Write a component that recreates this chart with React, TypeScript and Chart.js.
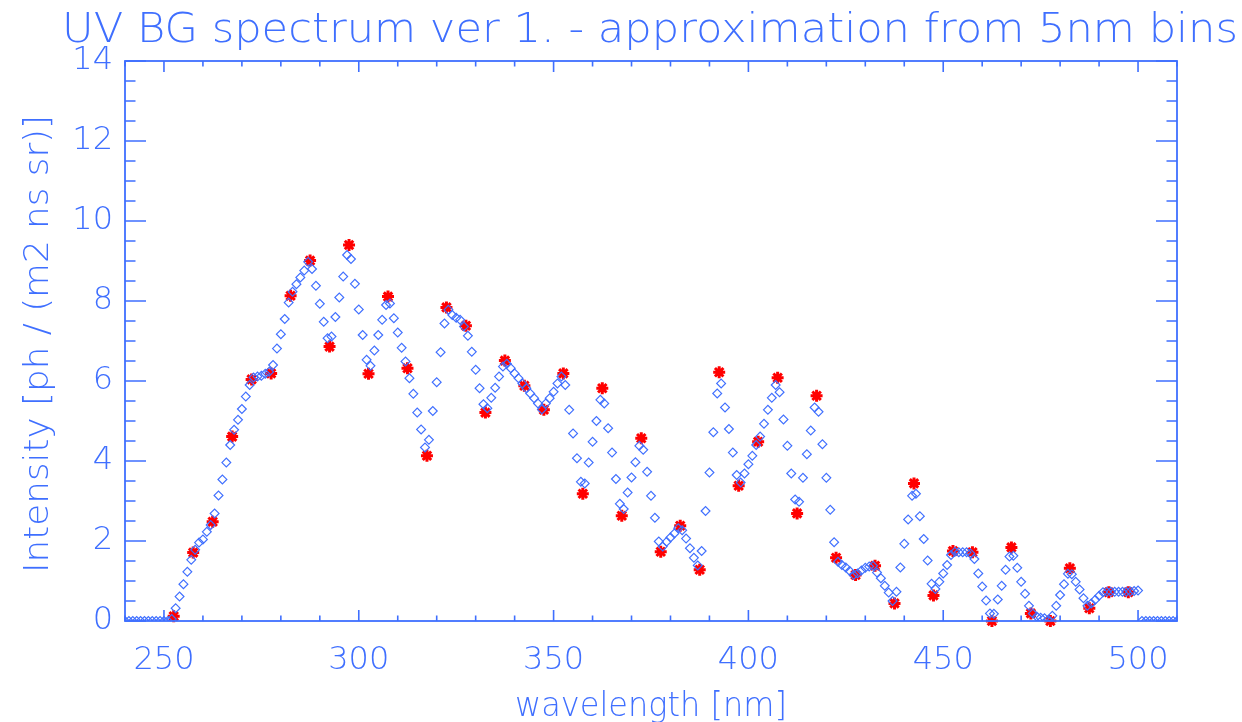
import { useEffect, useRef } from "react";
import { Chart, registerables } from "chart.js";

Chart.register(...registerables);

// ---------- text ----------
const TITLE = "UV BG spectrum ver 1. - approximation from 5nm bins";
const X_TITLE = "wavelength [nm]";
const Y_TITLE = "Intensity [ph / (m2 ns sr)]";

// ---------- axes ----------
const X_MIN = 240;
const X_MAX = 510;
const Y_MIN = 0;
const Y_MAX = 14;
const X_TICK_LABELS = [250, 300, 350, 400, 450, 500];
const X_MINOR_TICKS = [240, 250, 260, 270, 280, 290, 300, 310, 320, 330, 340, 350, 360, 370, 380, 390, 400, 410, 420, 430, 440, 450, 460, 470, 480, 490, 500, 510];
const Y_TICK_LABELS = [0, 2, 4, 6, 8, 10, 12, 14];
const Y_MINOR_TICKS = [0, 0.5, 1, 1.5, 2, 2.5, 3, 3.5, 4, 4.5, 5, 5.5, 6, 6.5, 7, 7.5, 8, 8.5, 9, 9.5, 10, 10.5, 11, 11.5, 12, 12.5, 13, 13.5, 14];

// ---------- 1 nm spectrum (blue diamonds) ----------
const FINE_WAVELENGTHS = [
  240, 241, 242, 243, 244, 245, 246, 247, 248, 249,
  250, 251, 252, 253, 254, 255, 256, 257, 258, 259,
  260, 261, 262, 263, 264, 265, 266, 267, 268, 269,
  270, 271, 272, 273, 274, 275, 276, 277, 278, 279,
  280, 281, 282, 283, 284, 285, 286, 287, 288, 289,
  290, 291, 292, 293, 294, 295, 296, 297, 298, 299,
  300, 301, 302, 303, 304, 305, 306, 307, 308, 309,
  310, 311, 312, 313, 314, 315, 316, 317, 318, 319,
  320, 321, 322, 323, 324, 325, 326, 327, 328, 329,
  330, 331, 332, 333, 334, 335, 336, 337, 338, 339,
  340, 341, 342, 343, 344, 345, 346, 347, 348, 349,
  350, 351, 352, 353, 354, 355, 356, 357, 358, 359,
  360, 361, 362, 363, 364, 365, 366, 367, 368, 369,
  370, 371, 372, 373, 374, 375, 376, 377, 378, 379,
  380, 381, 382, 383, 384, 385, 386, 387, 388, 389,
  390, 391, 392, 393, 394, 395, 396, 397, 398, 399,
  400, 401, 402, 403, 404, 405, 406, 407, 408, 409,
  410, 411, 412, 413, 414, 415, 416, 417, 418, 419,
  420, 421, 422, 423, 424, 425, 426, 427, 428, 429,
  430, 431, 432, 433, 434, 435, 436, 437, 438, 439,
  440, 441, 442, 443, 444, 445, 446, 447, 448, 449,
  450, 451, 452, 453, 454, 455, 456, 457, 458, 459,
  460, 461, 462, 463, 464, 465, 466, 467, 468, 469,
  470, 471, 472, 473, 474, 475, 476, 477, 478, 479,
  480, 481, 482, 483, 484, 485, 486, 487, 488, 489,
  490, 491, 492, 493, 494, 495, 496, 497, 498, 499,
  500, 501, 502, 503, 504, 505, 506, 507, 508, 509,
  510,
];
const FINE_INTENSITY = [
  0, 0, 0, 0, 0, 0, 0, 0, 0, 0,
  0, 0, 0.05, 0.32, 0.61, 0.92, 1.23, 1.53, 1.78, 1.96,
  2.04, 2.23, 2.4, 2.69, 3.14, 3.54, 3.96, 4.4, 4.78, 5.03,
  5.3, 5.61, 5.9, 6.09, 6.11, 6.13, 6.18, 6.23, 6.4, 6.81,
  7.17, 7.55, 7.96, 8.23, 8.42, 8.59, 8.76, 8.98, 8.8, 8.38,
  7.93, 7.48, 7.07, 7.11, 7.6, 8.09, 8.61, 9.15, 9.05, 8.43,
  7.79, 7.15, 6.53, 6.38, 6.76, 7.15, 7.53, 7.9, 7.94, 7.57,
  7.21, 6.83, 6.49, 6.07, 5.68, 5.21, 4.79, 4.34, 4.53, 5.25,
  5.97, 6.72, 7.44, 7.78, 7.65, 7.58, 7.53, 7.36, 7.13, 6.73,
  6.28, 5.82, 5.42, 5.32, 5.58, 5.83, 6.11, 6.36, 6.43, 6.32,
  6.19, 6.07, 5.94, 5.82, 5.69, 5.57, 5.44, 5.29, 5.44, 5.57,
  5.73, 5.94, 6.11, 5.9, 5.28, 4.69, 4.07, 3.48, 3.44, 3.96,
  4.48, 5.0, 5.53, 5.44, 4.82, 4.21, 3.55, 2.93, 2.8, 3.21,
  3.59, 3.97, 4.38, 4.28, 3.73, 3.13, 2.58, 1.99, 1.86, 1.98,
  2.09, 2.19, 2.32, 2.27, 2.06, 1.82, 1.58, 1.39, 1.75, 2.75,
  3.71, 4.72, 5.69, 5.94, 5.34, 4.8, 4.21, 3.65, 3.46, 3.69,
  3.92, 4.13, 4.4, 4.61, 4.93, 5.28, 5.58, 5.9, 5.72, 5.04,
  4.38, 3.69, 3.04, 2.98, 3.58, 4.17, 4.76, 5.34, 5.23, 4.42,
  3.58, 2.78, 1.97, 1.48, 1.4, 1.34, 1.25, 1.15, 1.19, 1.26,
  1.33, 1.36, 1.38, 1.21, 1.07, 0.88, 0.71, 0.5, 0.73, 1.34,
  1.93, 2.54, 3.13, 3.18, 2.62, 2.05, 1.51, 0.93, 0.8, 0.98,
  1.19, 1.4, 1.65, 1.73, 1.72, 1.72, 1.72, 1.69, 1.55, 1.19,
  0.86, 0.51, 0.19, 0.18, 0.54, 0.88, 1.28, 1.61, 1.63, 1.33,
  0.98, 0.68, 0.38, 0.19, 0.11, 0.08, 0.07, 0.03, 0.13, 0.38,
  0.65, 0.92, 1.18, 1.17, 0.98, 0.79, 0.57, 0.38, 0.44, 0.53,
  0.63, 0.72, 0.73, 0.73, 0.73, 0.73, 0.73, 0.73, 0.74, 0.75,
  0.76, 0, 0, 0, 0, 0, 0, 0, 0, 0,
  0,
];

// ---------- 5 nm bins (red asterisks) ----------
const BIN_WAVELENGTHS = [
  252.5, 257.5, 262.5, 267.5, 272.5, 277.5, 282.5, 287.5, 292.5, 297.5,
  302.5, 307.5, 312.5, 317.5, 322.5, 327.5, 332.5, 337.5, 342.5, 347.5,
  352.5, 357.5, 362.5, 367.5, 372.5, 377.5, 382.5, 387.5, 392.5, 397.5,
  402.5, 407.5, 412.5, 417.5, 422.5, 427.5, 432.5, 437.5, 442.5, 447.5,
  452.5, 457.5, 462.5, 467.5, 472.5, 477.5, 482.5, 487.5, 492.5, 497.5,
];
const BIN_INTENSITY = [
  0.12, 1.71, 2.48, 4.61, 6.04, 6.19, 8.13, 9.01, 6.86, 9.4,
  6.18, 8.11, 6.32, 4.13, 7.84, 7.38, 5.21, 6.51, 5.88, 5.28,
  6.19, 3.18, 5.82, 2.63, 4.57, 1.73, 2.38, 1.28, 6.22, 3.38,
  4.48, 6.08, 2.69, 5.63, 1.58, 1.15, 1.38, 0.44, 3.44, 0.64,
  1.75, 1.72, 0.0, 1.84, 0.19, 0.0, 1.32, 0.32, 0.72, 0.72,
];

// ---------- style ----------
const BLUE = "#3f6fff";
const RED = "#ff0000";
const FONT_FAMILY = '"DejaVu Sans", "Liberation Sans", sans-serif';
const FONT_WEIGHT = "200";

function drawFittedText(
  ctx: CanvasRenderingContext2D,
  text: string,
  cx: number,
  baseline: number,
  size: number,
  targetWidth: number,
  rotate: boolean
) {
  ctx.save();
  ctx.font = `${FONT_WEIGHT} ${size}px ${FONT_FAMILY}`;
  const w = ctx.measureText(text).width;
  ctx.translate(cx, baseline);
  if (rotate) ctx.rotate(-Math.PI / 2);
  ctx.scale(targetWidth / w, 1);
  ctx.textAlign = "center";
  ctx.textBaseline = "alphabetic";
  ctx.fillStyle = BLUE;
  ctx.fillText(text, 0, 0);
  ctx.restore();
}

const idlFrame = {
  id: "idlFrame",
  afterDatasetsDraw(chart: any) {
    const { ctx, chartArea: a, scales } = chart;
    const xs = scales.x;
    const ys = scales.y;
    ctx.save();
    ctx.strokeStyle = BLUE;
    ctx.lineWidth = 1.6;
    ctx.beginPath();
    for (const v of X_MINOR_TICKS) {
      const px = xs.getPixelForValue(v);
      const len = X_TICK_LABELS.includes(v) ? 11 : 5.5;
      ctx.moveTo(px, a.bottom);
      ctx.lineTo(px, a.bottom - len);
      ctx.moveTo(px, a.top);
      ctx.lineTo(px, a.top + len);
    }
    for (const v of Y_MINOR_TICKS) {
      const py = ys.getPixelForValue(v);
      const len = Y_TICK_LABELS.includes(v) ? 21 : 10.5;
      ctx.moveTo(a.left, py);
      ctx.lineTo(a.left + len, py);
      ctx.moveTo(a.right, py);
      ctx.lineTo(a.right - len, py);
    }
    ctx.stroke();
    ctx.lineWidth = 1.8;
    ctx.strokeRect(a.left, a.top, a.right - a.left, a.bottom - a.top);
    ctx.restore();

    drawFittedText(ctx, TITLE, 650, 42, 40, 1176, false);
    drawFittedText(ctx, X_TITLE, (a.left + a.right) / 2, 716, 33, 272, false);
    drawFittedText(ctx, Y_TITLE, 48, (a.top + a.bottom) / 2 + 3, 33, 458, true);
  },
};

export default function App() {
  const canvasRef = useRef<HTMLCanvasElement | null>(null);

  useEffect(() => {
    const canvas = canvasRef.current;
    if (!canvas) return;
    const fine = FINE_WAVELENGTHS.map((x, i) => ({ x, y: FINE_INTENSITY[i] }));
    const bins = BIN_WAVELENGTHS.map((x, i) => ({ x, y: BIN_INTENSITY[i] }));
    const tickFont = { family: FONT_FAMILY, size: 32, weight: FONT_WEIGHT as any };

    const chart = new Chart(canvas, {
      type: "scatter",
      data: {
        datasets: [
          {
            label: "1 nm",
            data: fine,
            pointStyle: "rectRot",
            pointRadius: 4.4,
            pointBorderWidth: 1.2,
            borderColor: BLUE,
            backgroundColor: "rgba(0,0,0,0)",
            showLine: false,
            clip: 0,
          } as any,
          {
            label: "5 nm bins",
            data: bins,
            pointStyle: "star",
            pointRadius: 6,
            pointBorderWidth: 3,
            borderColor: RED,
            backgroundColor: RED,
            showLine: false,
            clip: false,
          } as any,
        ],
      },
      options: {
        responsive: false,
        animation: false,
        events: [],
        layout: { padding: { top: 61, right: 65, left: 0, bottom: 0 } },
        plugins: {
          legend: { display: false },
          tooltip: { enabled: false },
          title: { display: false },
        },
        scales: {
          x: {
            type: "linear",
            position: "bottom",
            min: X_MIN,
            max: X_MAX,
            grid: { display: false, drawTicks: false },
            border: { display: false },
            afterBuildTicks: (s: any) => {
              s.ticks = X_TICK_LABELS.map((v) => ({ value: v }));
            },
            afterFit: (s: any) => {
              s.height = 101;
            },
            ticks: {
              color: BLUE,
              font: tickFont,
              padding: 20,
              maxRotation: 0,
              autoSkip: false,
              callback: (v: any) => String(v),
            },
          },
          y: {
            type: "linear",
            position: "left",
            min: Y_MIN,
            max: Y_MAX,
            grid: { display: false, drawTicks: false },
            border: { display: false },
            afterBuildTicks: (s: any) => {
              s.ticks = Y_TICK_LABELS.map((v) => ({ value: v }));
            },
            afterFit: (s: any) => {
              s.width = 125;
            },
            ticks: {
              color: BLUE,
              font: tickFont,
              padding: 12,
              autoSkip: false,
              callback: (v: any) => String(v),
            },
          },
        },
      },
      plugins: [idlFrame],
    });
    return () => chart.destroy();
  }, []);

  return (
    <div style={{ position: "fixed", left: 0, top: 0, width: 1242, height: 722, background: "#ffffff" }}>
      <canvas ref={canvasRef} width={1242} height={722} style={{ display: "block", width: 1242, height: 722 }} />
    </div>
  );
}
